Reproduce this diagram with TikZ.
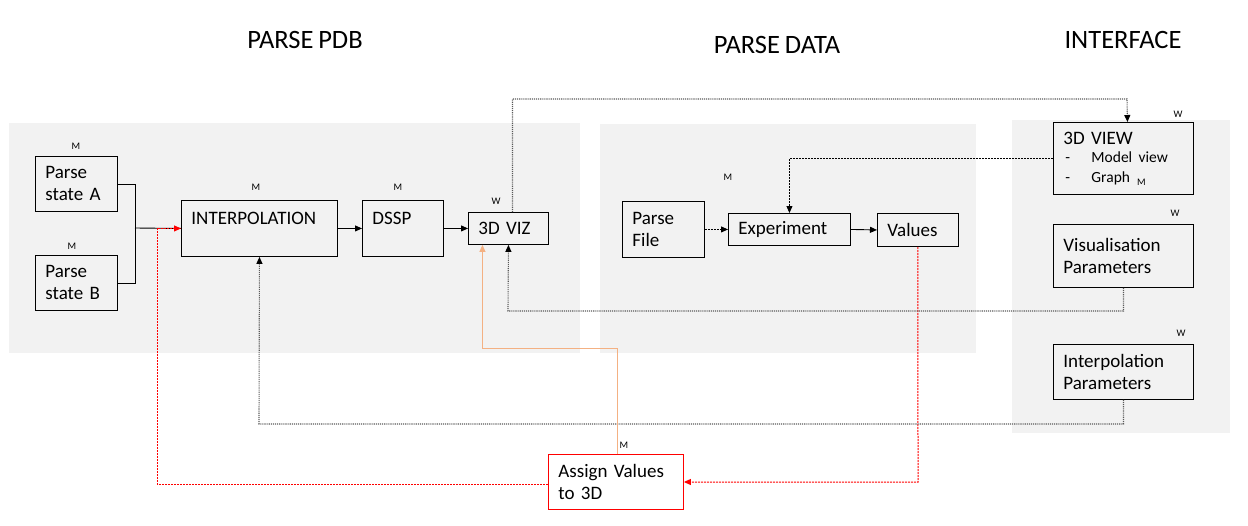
\documentclass[tikz,border=0pt]{standalone}
\usepackage{fontspec}
\setmainfont{Carlito}[WordSpace=0.8]
\usetikzlibrary{positioning, calc, arrows.meta}
\definecolor{panelgray}{HTML}{F2F2F2}
\definecolor{wireorange}{HTML}{F4B183}
\definecolor{wiregray}{HTML}{595959}

\begin{document}
\begin{tikzpicture}[x=1pt, y=-1pt, >={Triangle[length=7pt,width=6pt]},
    panel/.style={fill=panelgray, draw=none},
    block/.style={draw, line width=0.9pt, anchor=north west, align=left,
      inner xsep=10pt, inner ysep=0pt, font=\fontsize{19}{22}\selectfont},
    tag/.style={font=\fontsize{10}{11}\selectfont, inner sep=0pt},
    title/.style={font=\fontsize{26.5}{30}\selectfont, inner sep=0pt},
    wire/.style={line width=0.9pt},
    dotwire/.style={wiregray, line width=1.1pt, densely dotted,
      -{Triangle[length=7pt,width=6pt,color=black]}},
    dashwire/.style={line width=0.9pt, dash pattern=on 2pt off 1pt},
    redwire/.style={red, line width=1pt, dash pattern=on 2pt off 1pt}]

    \useasboundingbox (0,0) rectangle (1248,525);

    % panels
    \fill[panel] (9,123) rectangle (580,353);
    \fill[panel] (600,124) rectangle (976,353);
    \fill[panel] (1012,120) rectangle (1230,433);

    \node[title] (tpdb) at (305,40) {PARSE PDB};
    \node[title] (tdata) at (777,45) {PARSE DATA};
    \node[title] (tui) at (1123,40) {INTERFACE};

    % parse pdb
    \node[block, text width=62pt, minimum height=55pt] (stA) at (35,156) {Parse\\state A};
    \node[block, text width=62pt, minimum height=55pt] (stB) at (35,255) {Parse\\state B};
    \node[block, text width=136pt, minimum height=56pt, text height=24pt, text depth=32pt]
      (interp) at (181,200) {INTERPOLATION};
    \node[block, text width=61pt, minimum height=56pt, text height=24pt, text depth=32pt]
      (dssp) at (362,200) {DSSP};
    \node[block, text width=60pt, minimum height=32pt] (viz) at (468,212) {3D VIZ};

    % parse data
    \node[block, text width=62pt, minimum height=56pt] (pfile) at (622,201) {Parse\\File};
    \node[block, text width=102pt, minimum height=32pt] (exp) at (728,213) {Experiment};
    \node[block, text width=61pt, minimum height=33pt] (vals) at (877,213) {Values};

    % interface
    \node[block, text width=120pt, minimum height=72pt] (view) at (1053,122)
      {3D VIEW\\[1pt]
       \fontsize{15.5}{17}\selectfont\makebox[28pt][l]{\hspace{2pt}-}Model view\\[-2pt]
       \fontsize{15.5}{17}\selectfont\makebox[28pt][l]{\hspace{2pt}-}Graph\hspace{7pt}\raisebox{-3pt}{\fontsize{10}{11}\selectfont M}};
    \node[block, text width=120pt, minimum height=63pt] (visp) at (1053,224) {Visualisation\\Parameters};
    \node[block, text width=120pt, minimum height=55pt] (intp) at (1053,344) {Interpolation\\Parameters};

    \node[block, draw=red, text width=115pt, minimum height=55pt] (assign) at (548,454) {Assign Values\\to 3D};

    % tags
    \node[tag] (tgA) at (76,146) {M};
    \node[tag] (tgB) at (72,246) {M};
    \node[tag] (tgI) at (256,187) {M};
    \node[tag] (tgD) at (398,187) {M};
    \node[tag] (tgV) at (496,201) {W};
    \node[tag] (tgE) at (728,177) {M};
    \node[tag] (tgW) at (1178,114) {W};
    \node[tag] (tgP) at (1175,213) {W};
    \node[tag] (tgQ) at (1181,333) {W};
    \node[tag] (tgS) at (624,445) {M};

    % bends
    \coordinate (jn) at (135,228);
    \coordinate (topbend) at (1127,99);
    \coordinate (vizbend) at (508,311);
    \coordinate (intbend) at (259,424);
    \coordinate (orbend) at (617,348);
    \coordinate (redbend) at (157,484);
    \coordinate (valbend) at (918,482);

    % connectors
    \draw[wire] (stA.east) -| (jn);
    \draw[wire] (stB.east) -| (jn);
    \draw[wire] (jn) -- (interp.west);
    \draw[redwire, ->] (assign.west |- redbend) -- (redbend) |- (interp.west);
    \draw[wire, ->] (interp.east) -- (dssp.west);
    \draw[wire, ->] (dssp.east) -- (viz.west);
    \draw[dotwire] ([xshift=4pt]viz.north) |- (topbend) -- ([xshift=4pt]view.north);
    \draw[dashwire, ->] (view.west) -| (exp.north);
    \draw[dashwire, ->] (pfile.east) -- (exp.west);
    \draw[wire, ->] (exp.east) -- (vals.west);
    \draw[redwire, ->] (vals.south) -- (valbend) -- (assign.east |- valbend);
    \draw[dotwire] (visp.south) |- (vizbend) -- (viz.south);
    \draw[dotwire] (intp.south) |- (intbend) -- (interp.south);
    \draw[wireorange, line width=1pt, ->] (assign.north -| orbend) -- (orbend) -| ([xshift=-26pt]viz.south);
  \end{tikzpicture}
\end{document}
